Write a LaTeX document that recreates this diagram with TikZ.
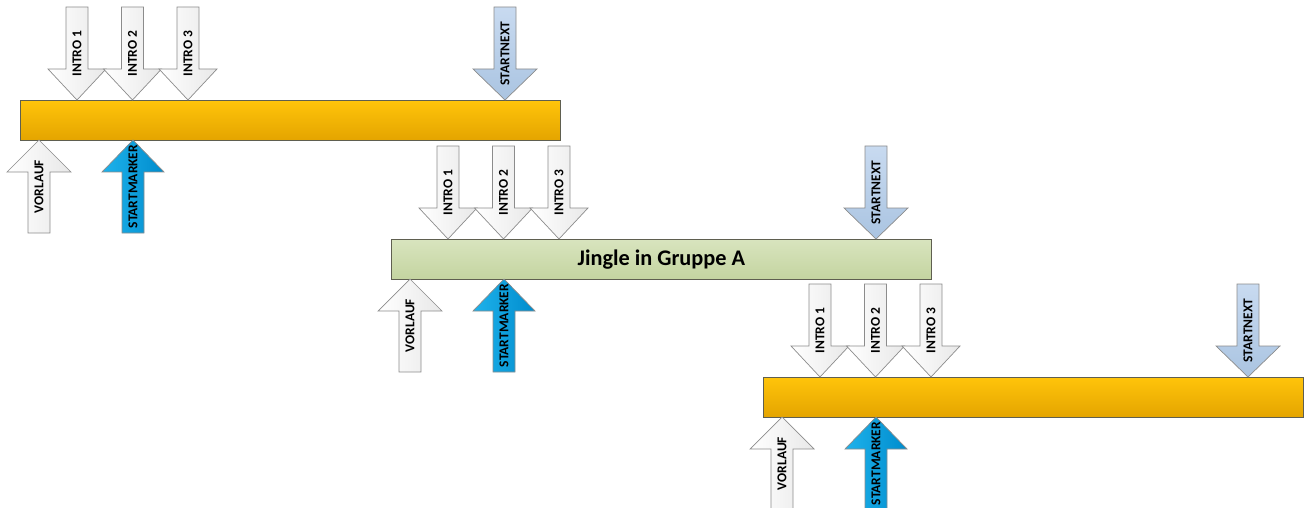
\documentclass[tikz,border=0pt]{standalone}
\usepackage{fontspec}
\setmainfont{Carlito}
\definecolor{barTop}{RGB}{255,196,10}
\definecolor{barBot}{RGB}{228,164,0}
\definecolor{grTop}{RGB}{216,228,190}
\definecolor{grBot}{RGB}{196,212,160}
\definecolor{smL}{RGB}{30,178,235}
\definecolor{smR}{RGB}{0,140,205}
\definecolor{snTop}{RGB}{200,218,240}
\definecolor{snBot}{RGB}{170,196,225}
\definecolor{whTop}{RGB}{255,255,255}
\definecolor{whBot}{RGB}{232,232,232}
\definecolor{edgeDark}{RGB}{95,95,80}
\definecolor{edgeArr}{RGB}{140,140,140}
\tikzset{
  barbox/.style={draw=edgeDark, line width=0.8pt, top color=barTop, bottom color=barBot},
  greenbox/.style={draw=edgeDark, line width=0.8pt, top color=grTop, bottom color=grBot},
  whitearr/.style={draw=edgeArr, line width=0.7pt, left color=whTop, right color=whBot},
  bluearr/.style={draw=edgeArr, line width=0.7pt, left color=smL, right color=smR},
  nextarr/.style={draw=edgeArr, line width=0.7pt, top color=snTop, bottom color=snBot},
  arrlabel/.style={rotate=90, inner sep=0pt, font=\fontsize{13.5}{13.5}\selectfont\bfseries},
}
% down arrow: name, cx, tip y, head half width, style, label
\newcommand\DnArrow[6]{%
  \path[#5] ({#2},{#3}) -- ({#2+#4},{#3-31}) -- ({#2+11},{#3-31}) -- ({#2+11},{#3-93})
     -- ({#2-11},{#3-93}) -- ({#2-11},{#3-31}) -- ({#2-#4},{#3-31}) -- cycle;
  \node[arrlabel] (#1) at ({#2},{#3-46.5}) {#6};}
% up arrow: name, cx, tip y, head half width, style, label
\newcommand\UpArrow[6]{%
  \path[#5] ({#2},{#3}) -- ({#2+#4},{#3+32}) -- ({#2+11},{#3+32}) -- ({#2+11},{#3+93})
     -- ({#2-11},{#3+93}) -- ({#2-11},{#3+32}) -- ({#2-#4},{#3+32}) -- cycle;
  \node[arrlabel] (#1) at ({#2},{#3+46.5}) {#6};}
\begin{document}
\begin{tikzpicture}[x=1pt,y=-1pt]
\useasboundingbox (0,0) rectangle (1307,508);
% ---------- bar 1 ----------
\node[barbox, minimum width=540pt, minimum height=40pt, anchor=north west, inner sep=0pt] (bar1) at (20,100) {};
\DnArrow{b1i1}{77}{100}{29}{whitearr}{INTRO 1}
\DnArrow{b1i2}{132.5}{100}{29}{whitearr}{INTRO 2}
\DnArrow{b1i3}{188}{100}{29}{whitearr}{INTRO 3}
\DnArrow{b1sn}{505}{100}{32}{nextarr}{STARTNEXT}
\UpArrow{b1vl}{39}{140}{32}{whitearr}{VORLAUF}
\UpArrow{b1sm}{133}{140}{31}{bluearr}{STARTMARKER}
% ---------- bar 2 ----------
\node[greenbox, minimum width=540pt, minimum height=40pt, anchor=north west, inner sep=0pt,
      font=\fontsize{22.3}{22.3}\selectfont\bfseries] (bar2) at (391,239) {Jingle in Gruppe A};
\DnArrow{b2i1}{448}{239}{29}{whitearr}{INTRO 1}
\DnArrow{b2i2}{503.5}{239}{29}{whitearr}{INTRO 2}
\DnArrow{b2i3}{559}{239}{29}{whitearr}{INTRO 3}
\DnArrow{b2sn}{876}{239}{32}{nextarr}{STARTNEXT}
\UpArrow{b2vl}{410}{279}{32}{whitearr}{VORLAUF}
\UpArrow{b2sm}{504}{279}{31}{bluearr}{STARTMARKER}
% ---------- bar 3 ----------
\node[barbox, minimum width=540pt, minimum height=40pt, anchor=north west, inner sep=0pt] (bar3) at (763,377) {};
\DnArrow{b3i1}{820}{377}{29}{whitearr}{INTRO 1}
\DnArrow{b3i2}{875.5}{377}{29}{whitearr}{INTRO 2}
\DnArrow{b3i3}{931}{377}{29}{whitearr}{INTRO 3}
\DnArrow{b3sn}{1248}{377}{32}{nextarr}{STARTNEXT}
\UpArrow{b3vl}{782}{417}{32}{whitearr}{VORLAUF}
\UpArrow{b3sm}{876}{417}{31}{bluearr}{STARTMARKER}
\end{tikzpicture}
\end{document}
